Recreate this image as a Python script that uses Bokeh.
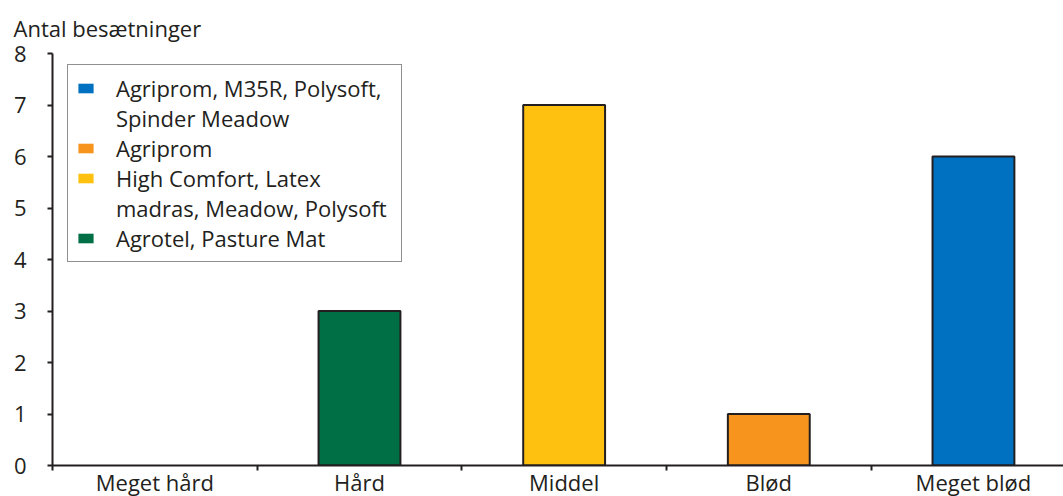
from bokeh.plotting import figure
from bokeh.models import Range1d, FixedTicker, Legend, LegendItem, ColumnDataSource
from bokeh.embed import file_html
from bokeh.resources import INLINE

categories = ["Meget hård", "Hård", "Middel", "Blød", "Meget blød"]
values = [0, 3, 7, 1, 6]
bar_colors = ["#ffffff", "#006f45", "#fec10f", "#f7941e", "#0070c0"]
# legend entries: each is a list of lines; the swatch sits on the first line
legend_labels = [["Agriprom, M35R, Polysoft,", "Spinder Meadow"], ["Agriprom"],
                 ["High Comfort, Latex", "madras, Meadow, Polysoft"], ["Agrotel, Pasture Mat"]]
legend_for = ["Meget blød", "Blød", "Middel", "Hård"]
y_ticks = [0, 1, 2, 3, 4, 5, 6, 7, 8]

FONT = "Open Sans"
TXT = "#231f20"
FS = "22px"

xs = [i + 0.5 for i in range(len(categories))]
p = figure(frame_width=1011, frame_height=412, output_backend="svg", toolbar_location=None,
           x_range=Range1d(0, 4.94), y_range=Range1d(0, 8),
           min_border_left=52, min_border_right=0, min_border_top=53, min_border_bottom=0)
p.title.text = "Antal besætninger"
p.title.text_font = FONT
p.title.text_font_size = FS
p.title.text_font_style = "normal"
p.title.text_color = TXT
p.title.offset = -39
p.title.standoff = 21

# fill-only bars (used for the legend swatches), then outlined bars on top
legend_r = {}
blank_r = None
for i, (c, v, col) in enumerate(zip(categories, values, bar_colors)):
    if v == 0:
        continue
    s = ColumnDataSource(dict(x=[xs[i]], top=[v]))
    legend_r[c] = p.vbar(x="x", top="top", bottom=0, width=0.4, source=s,
                         fill_color=col, line_color=None)
    if blank_r is None:
        blank_r = p.vbar(x="x", top="top", bottom=0, width=0.4, source=s,
                         fill_alpha=0, line_alpha=0)
for i, (c, v, col) in enumerate(zip(categories, values, bar_colors)):
    if v == 0:
        continue
    s = ColumnDataSource(dict(x=[xs[i]], top=[v]))
    p.vbar(x="x", top="top", bottom=0, width=0.4, source=s,
           fill_color=col, line_color=TXT, line_width=2)

items = []
for lines, c in zip(legend_labels, legend_for):
    items.append(LegendItem(label=lines[0], renderers=[legend_r[c]]))
    for extra in lines[1:]:
        items.append(LegendItem(label=extra, renderers=[blank_r]))
leg = Legend(items=items, location=(15, 203), label_text_font=FONT, label_text_font_size=FS,
             label_text_color=TXT, glyph_width=19, glyph_height=12,
             label_standoff=21, label_width=277, padding=8, spacing=0,
             border_line_color=TXT, border_line_width=1,
             background_fill_alpha=1, margin=0)
p.add_layout(leg)

p.xgrid.visible = False
p.ygrid.visible = False
p.outline_line_color = None

xa = p.xaxis[0]
xa.ticker = FixedTicker(ticks=xs, minor_ticks=[0, 1, 2, 3, 4, 5])
xa.major_label_overrides = {x: c for x, c in zip(xs, categories)}
xa.major_label_text_font = FONT
xa.major_label_text_font_size = FS
xa.major_label_text_color = TXT
xa.major_label_text_line_height = 1.0
xa.major_label_standoff = -4
xa.major_tick_line_color = None
xa.major_tick_out = 0
xa.major_tick_in = 0
xa.minor_tick_out = 5
xa.minor_tick_in = 0
xa.minor_tick_line_color = TXT
xa.minor_tick_line_width = 2
xa.axis_line_color = TXT
xa.axis_line_width = 2

ya = p.yaxis[0]
ya.ticker = FixedTicker(ticks=y_ticks, minor_ticks=[])
ya.major_tick_out = 5
ya.major_tick_in = 0
ya.major_tick_line_color = TXT
ya.major_tick_line_width = 2
ya.axis_line_color = TXT
ya.axis_line_width = 2
ya.major_label_text_font = FONT
ya.major_label_text_font_size = FS
ya.major_label_text_color = TXT
ya.major_label_standoff = 21

open("out.html", "w").write(file_html(p, INLINE))
